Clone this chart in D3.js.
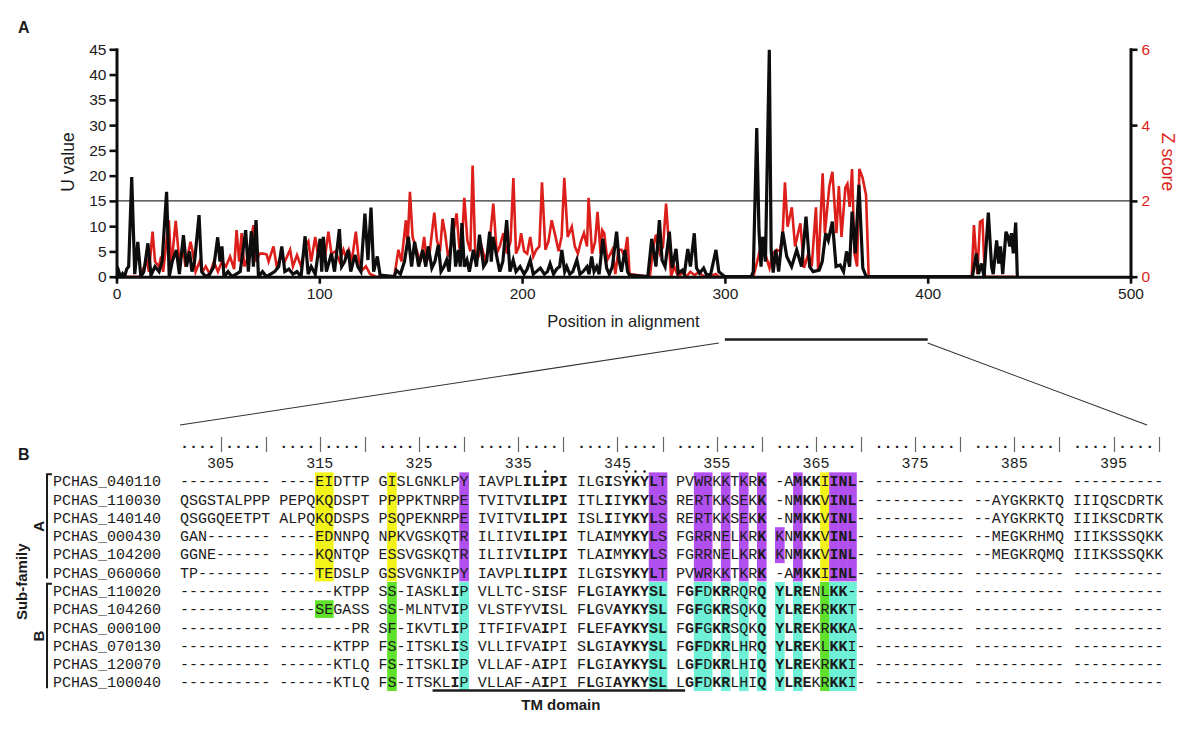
<!DOCTYPE html>
<html><head><meta charset="utf-8">
<script src="https://cdn.jsdelivr.net/npm/d3@7"></script>
<style>body{margin:0;background:#fff}</style>
</head><body>
<svg id="c" width="1200" height="734"></svg>
<script>
// ---------------- DATA ----------------
// Panel A: U value (black, left axis) as [position, U]
const uSeries = [[0,0],[1,1.2],[2,0],[3,0.6],[4,0],[5,1.5],[6,2],[7.5,19.7],[9,0.5],[10.5,6.9],[12,0],[13.5,1],[15.5,6.6],[17,0.3],[19,2],[21,1],[22.5,3],[24.7,16.8],[26,0],[27.5,3],[29.5,5.3],[31,0.5],[33,8.2],[34.5,2],[36,5],[37.2,1],[38.5,3],[40.7,12.2],[42,1],[44,0],[46,0.5],[48,2],[49.9,7.8],[51,3],[52,6],[53,0],[55,1],[57,0],[59,0.5],[61,1],[63.7,9.2],[65,1],[66.5,9],[67.5,2],[68.8,11.2],[70,0],[72,1],[74,0],[76,0.5],[78,1],[80,2],[81.5,6],[83,1],[85,1.5],[87,0.5],[89,1],[91,0],[93,8],[94.5,0.5],[96,2],[98,0.5],[100.4,7.5],[101.2,1],[102,7.9],[103.5,1],[106,4.6],[107.5,1],[109.9,9.4],[111,2],[112.5,3],[114.3,5.3],[115.5,1],[117.6,4.3],[119,2],[120.5,1],[122.5,12.5],[124,3.3],[125.5,13.7],[126.8,1],[128.6,4],[130,0.3],[137,0],[138,1.3],[140,0.5],[142,3],[143.9,7.9],[145.5,2],[147,6.9],[149,2],[151,5.3],[152.5,2],[153.7,6],[155.5,1.7],[157,3],[158.7,6.3],[160,1],[161.5,2],[162.8,3.3],[164,1],[165.8,11.6],[167.2,2],[168.6,5.3],[169.5,2],[170.3,10.6],[171.5,2],[172.8,3.3],[174,1],[176,5.3],[177.5,2],[179,8.3],[181,2],[182.5,3],[184,8.9],[184.8,3],[185.6,7.9],[187.5,4],[189,1],[190.5,3],[192.4,11.2],[194,1],[195.6,3.3],[197,1],[199,2],[201,0.5],[202.5,1.5],[204,3.3],[205.5,0.5],[207,1],[209,1.7],[211,0.5],[212.5,1],[213.8,2.6],[215.5,0.5],[217,1.5],[218.5,2],[219.6,5.3],[221,1],[222,2],[223.5,0.5],[225,1],[227,3.3],[228.5,0.5],[230,1],[232,2],[233,0.5],[234.3,4],[235.5,1],[236.8,2],[238,0.5],[239.8,7.5],[241.7,1.7],[243,0.5],[244.5,2],[246.6,8.9],[247.8,3.3],[249,1],[250.7,5.3],[252,1],[253,0.3],[262,0],[263.9,7.5],[265,4.6],[266,2],[267.7,11.2],[269,3.3],[270.5,2],[272.6,8.9],[274,1.7],[275.9,5.5],[277,0.7],[279,1.3],[280,0.5],[281.7,5.5],[283,2],[284.9,8.6],[286,1.7],[287.5,0.7],[289.5,1.7],[291,0.3],[293,0.5],[295.6,5.3],[297,1],[298.5,0.5],[300,0],[313,0],[314,1],[315.7,29.4],[316.8,9.2],[317.8,2],[318.6,7.9],[320,3],[321.9,44.9],[322.8,5.3],[323.8,0.8],[325.1,5.3],[326.5,1],[328.5,8.9],[330.5,4],[332.9,2],[335.4,5.3],[337.8,2],[340,11.9],[341.8,2],[343.5,1],[346.5,1.3],[348,3],[349.7,8.6],[351,7.2],[353,10.9],[354.8,2],[356.8,2.3],[358.5,1],[360,5],[361.5,2],[362.7,12.9],[364.3,4.6],[366.1,18.2],[368,1.7],[369.7,0],[422,0],[424,4.6],[425,0.5],[426.5,2.6],[427.8,0],[429.9,12.7],[431.5,2],[432.3,0.5],[434,7.2],[435,2.6],[435.9,6],[437,0.5],[438.6,8.9],[439.6,7.9],[440.5,6],[441.3,8.6],[442.2,4.6],[443.4,10.7],[444.2,0]];
// Panel A: Z score (red, right axis) as [position, Z]
const zSeries = [[0,0],[12,0],[13,0.2],[15,0.4],[16,0.13],[17.8,1.19],[19,0.4],[21,0.27],[22,0.53],[23,0.13],[25.8,1.49],[27,0.27],[29.2,1.47],[31,0.4],[33,0.67],[34,0.27],[36.5,0.92],[37.5,0.67],[39,0.13],[41,0.4],[42.5,0.13],[44,0.27],[46,0.07],[48,0.4],[50,0.13],[52,0.4],[54,0.27],[56,0.53],[58,0.2],[59.2,1.23],[60.5,0.4],[61.7,1.15],[63,0.27],[65,0.53],[67.5,1.36],[69,0.4],[70.5,0.61],[72,0.61],[74,0.59],[75,0.4],[77.4,0.8],[79,0.27],[81,0.53],[83,0.4],[85.6,0.71],[87,0.27],[89,0.57],[91,0.27],[93,0.8],[94.6,0.93],[96,0.4],[98,1.05],[99.5,0.53],[101,0.67],[102.5,0.4],[104.5,1.19],[106,0.61],[108,0.67],[110,0.4],[111.9,0.71],[113,0.53],[114.5,0.71],[116,0.4],[118,1.19],[119.5,0.44],[121,0.17],[123,0.27],[125,0.07],[128,0],[137,0],[139,0.71],[140.5,0.4],[142.7,1.49],[143.5,0.8],[144.7,2.24],[146,1.05],[148.5,0.61],[150,0.4],[151.7,1.05],[153,0.4],[154.5,0.67],[156.7,1.69],[158,0.96],[159.5,0.67],[160.8,1.52],[162,1.15],[163.5,0.53],[165,0.8],[167.7,1.67],[169,0.8],[170,0.53],[171.5,2.08],[173,0.96],[174.5,0.67],[175.6,2.93],[177,0.44],[178.5,0.53],[180,0.8],[182,0.4],[184,0.93],[185.8,1.93],[187.5,0.61],[189,0.8],[190.8,1.15],[192.5,0.61],[194.3,0.93],[195.7,2.6],[197,0.61],[198.5,0.8],[199.5,1.15],[201,0.67],[202.5,0.61],[204,1.05],[205.5,0.53],[207,0.71],[208.5,0.8],[209.8,2.49],[211.5,0.71],[213,0.93],[214.6,1.49],[216.5,1.05],[218,0.67],[219.5,1.07],[220.8,2.61],[222.5,1.05],[224.5,1.32],[226,0.8],[227.5,0.61],[229,0.93],[230.5,1.15],[232,0.8],[232.8,2.08],[234.5,0.61],[236,0.93],[237.2,1.71],[238.7,0.61],[239.5,1.23],[240.5,1.15],[242,0.44],[244.5,0.71],[246,0.07],[247.5,0.71],[249,0.71],[250.5,0.53],[251.9,1.05],[253,0.07],[263,0],[264.5,0.71],[266,1.11],[268,0.61],[269.5,0.8],[271,1.93],[272,1.15],[273.5,0],[275,0.27],[277,0],[279,0.11],[281,0],[283,0.13],[285,0.04],[287,0.11],[290,0],[294,0.04],[295.5,0.07],[297,0],[314,0],[315.7,0.35],[317.3,0.71],[319.8,0.61],[322,0.23],[323.5,0.61],[325.5,0.71],[327.2,0.67],[328.5,1.15],[329.6,2.49],[330.9,1.32],[333,1.83],[334.6,0.8],[337.2,1.41],[339,0.23],[341.2,0.61],[342.8,0.27],[344.9,1.83],[346,0.13],[348.2,2.73],[349.3,1.15],[351.5,2.39],[353,2.77],[355,1.15],[356.2,2.39],[357.5,1.05],[359.4,2.35],[360.4,2.45],[361.5,1.84],[362.7,2.84],[363.9,0.61],[365.2,0.27],[366.3,2.84],[367.9,2.61],[369.6,2.15],[370.9,0],[421.7,0],[422.8,1.36],[424.5,0.07],[425.8,1.45],[427,1.49],[428.2,0],[443,0]];
const xTicks = [0,100,200,300,400,500];
const uTicks = [0,5,10,15,20,25,30,35,40,45];
const zTicks = [0,2,4,6];
const uThreshold = 15;
const zoomRange = [300, 400];

// Panel B: alignment positions 301-400
const seqNames = ["PCHAS_040110","PCHAS_110030","PCHAS_140140","PCHAS_000430","PCHAS_104200","PCHAS_060060",
                  "PCHAS_110020","PCHAS_104260","PCHAS_000100","PCHAS_070130","PCHAS_120070","PCHAS_100040"];
const seqBlocks = [
 "---------- ----EIDTTP GISLGNKLPY IAVPLILIPI ILGISYKYLT PVWRKKTKRK -AMKKIINL- ---------- ---------- ----------",
 "QSGSTALPPP PEPQKQDSPT PPPPKTNRPE TVITVILIPI ITLIIYKYLS RERTKKSEKK -NMKKVINL- ---------- --AYGKRKTQ IIIQSCDRTK",
 "QSGGQEETPT ALPQKQDSPS PSQPEKNRPE IVITVILIPI ISLIIYKYLS RERTKKSEKK -NMKKVINL- ---------- --AYGKRKTQ IIIKSCDRTK",
 "GAN------- ----EDNNPQ NPKVGSKQTR ILIIVILIPI TLAIMYKYLS FGRRNELKRK KNMKKVINL- ---------- --MEGKRHMQ IIIKSSSQKK",
 "GGNE------ ----KQNTQP ESSVGSKQTR ILIIVILIPI TLAIMYKYLS FGRRNELKRK KNMKKVINL- ---------- --MEGKRQMQ IIIKSSSQKK",
 "TP-------- ----TEDSLP GSSVGNKIPY IAVPLILIPI ILGISYKYLT PVWRKKTKRK -AMKKIINL- ---------- ---------- ----------",
 "---------- ------KTPP SS-IASKLIP VLLTC-SISF FLGIAYKYSL FGFDKRRQRQ YLRENLKK-- ---------- ---------- ----------",
 "---------- ----SEGASS SS-MLNTVIP VLSTFYVISL FLGVAYKYSL FGFGKRSQKQ YLREKRKKT- ---------- ---------- ----------",
 "---------- --------PR SF-IKVTLIP ITFIFVAIPI FLEFAYKYSL FGFGKRSQKQ YLREKRKKA- ---------- ---------- ----------",
 "---------- ------KTPP FS-ITSKLIS VLLIFVAIPI SLGIAYKYSL FGFDKRLHRQ YLREKLKKI- ---------- ---------- ----------",
 "---------- ------KTLQ FS-ITSKLIP VLLAF-AIPI FLGIAYKYSL LGFDKRLHIQ YLREKRKKI- ---------- ---------- ----------",
 "---------- ------KTLQ FS-ITSKLIP VLLAF-AIPI FLGIAYKYSL LGFDKRLHIQ YLREKRKKI- ---------- ---------- ----------"
];
const subfamilies = [{name:"A", rows:[0,5]}, {name:"B", rows:[6,11]}];
const rulerLabels = [305,315,325,335,345,355,365,375,385,395];
const conservedMarks = [338,346,347,348];
const tmDomain = [327,351];
// shading: [alignment position, first row, last row, residue class]
const shading = [
 [315,0,5,"yellow"],[316,0,5,"yellow"],[322,0,5,"yellow"],[366,0,5,"yellow"],
 [330,0,5,"purple"],[349,0,5,"purple"],[350,0,5,"purple"],[353,0,5,"purple"],[354,0,5,"purple"],
 [356,0,5,"purple"],[358,0,5,"purple"],[360,0,5,"purple"],[363,0,5,"purple"],[367,0,5,"purple"],
 [368,0,5,"purple"],[369,0,5,"purple"],[361,3,4,"purple"],
 [315,7,7,"green"],[316,7,7,"green"],[322,6,11,"green"],[366,6,11,"green"],
 [330,6,11,"cyan"],[349,6,11,"cyan"],[350,6,11,"cyan"],[353,6,11,"cyan"],[354,6,11,"cyan"],
 [356,6,11,"cyan"],[358,6,11,"cyan"],[360,6,11,"cyan"],[361,6,11,"cyan"],[363,6,11,"cyan"],
 [367,6,11,"cyan"],[368,6,11,"cyan"],[369,6,11,"cyan"]
];

// ---------------- DRAWING ----------------
const SANS = "'Liberation Sans', Arial, Helvetica, sans-serif";
const MONO = "'Liberation Mono', 'Courier New', monospace";
const INK = "#1b1b1b";
const RED = "#dc1f1a";
const shadeColor = {yellow:"#f3f31c", purple:"#b150ef", cyan:"#6ef0d6", green:"#5fe12c"};

const svg = d3.select("#c");
svg.append("rect").attr("width",1200).attr("height",734).attr("fill","#fff");

// ----- Panel A -----
const x = d3.scaleLinear().domain([0,500]).range([116.5,1130.5]);
const yU = d3.scaleLinear().domain([0,45]).range([276.7,49.3]);
const yZ = d3.scaleLinear().domain([0,6]).range([276.7,49.3]);

svg.append("text").attr("x",18).attr("y",33).attr("font-family",SANS).attr("font-weight","bold")
  .attr("font-size",16).attr("fill",INK).text("A");

svg.append("defs").append("clipPath").attr("id","pa").append("rect")
  .attr("x",x(0)).attr("y",30).attr("width",x(500)-x(0)).attr("height",yU(0)-30);

svg.append("line").attr("x1",x(0)).attr("x2",x(500)).attr("y1",yU(uThreshold)).attr("y2",yU(uThreshold))
  .attr("stroke","#333").attr("stroke-width",1.3);

const gl = svg.append("g").attr("clip-path","url(#pa)");
gl.append("path").datum(zSeries)
  .attr("d",d3.line().x(d=>x(d[0])).y(d=>yZ(d[1])))
  .attr("fill","none").attr("stroke",RED).attr("stroke-width",2.6).attr("stroke-linejoin","miter");
gl.append("path").datum(uSeries)
  .attr("d",d3.line().x(d=>x(d[0])).y(d=>yU(d[1])))
  .attr("fill","none").attr("stroke","#0d0d0d").attr("stroke-width",3.2).attr("stroke-linejoin","miter");

function styleAxis(g, color){
  g.selectAll("path.domain").attr("stroke","#0d0d0d").attr("stroke-width",3).attr("stroke-linecap","square");
  g.selectAll(".tick line").attr("stroke","#0d0d0d").attr("stroke-width",2.6);
  g.selectAll(".tick text").attr("font-family",SANS).attr("font-size",15.5).attr("fill",color);
}
const fmt = d3.format("d");
const axL = svg.append("g").attr("transform",`translate(${x(0)},0)`)
  .call(d3.axisLeft(yU).tickValues(uTicks).tickFormat(fmt).tickSize(7).tickPadding(3).tickSizeOuter(0));
styleAxis(axL, INK);
const axR = svg.append("g").attr("transform",`translate(${x(500)},0)`)
  .call(d3.axisRight(yZ).tickValues(zTicks).tickFormat(fmt).tickSize(7).tickPadding(4).tickSizeOuter(0));
styleAxis(axR, RED);
const axB = svg.append("g").attr("transform",`translate(0,${yU(0)})`)
  .call(d3.axisBottom(x).tickValues(xTicks).tickFormat(fmt).tickSize(7).tickPadding(4).tickSizeOuter(0));
styleAxis(axB, INK);

svg.append("text").attr("transform","translate(74,162) rotate(-90)").attr("text-anchor","middle")
  .attr("font-family",SANS).attr("font-size",17.5).attr("fill",INK).text("U value");
svg.append("text").attr("transform","translate(1162,162) rotate(90)").attr("text-anchor","middle")
  .attr("font-family",SANS).attr("font-size",17.5).attr("fill",RED).text("Z score");
svg.append("text").attr("x",(x(0)+x(500))/2).attr("y",327).attr("text-anchor","middle")
  .attr("font-family",SANS).attr("font-size",16.5).attr("fill",INK).text("Position in alignment");

// zoom connector
svg.append("line").attr("x1",x(zoomRange[0])).attr("x2",x(zoomRange[1])).attr("y1",339.5).attr("y2",339.5)
  .attr("stroke",INK).attr("stroke-width",2.4);
svg.append("line").attr("x1",x(zoomRange[0])-6).attr("y1",343).attr("x2",180).attr("y2",425)
  .attr("stroke","#333").attr("stroke-width",1.1);
svg.append("line").attr("x1",x(zoomRange[1])).attr("y1",343).attr("x2",1147).attr("y2",425)
  .attr("stroke","#333").attr("stroke-width",1.1);

// ----- Panel B -----
svg.append("text").attr("x",18).attr("y",460).attr("font-family",SANS).attr("font-weight","bold")
  .attr("font-size",16).attr("fill",INK).text("B");

const seqs = seqBlocks.map(s=>s.replace(/ /g,""));
const cw = 9.02;
const colIdx = p => Math.floor((p-301)/10)*11 + (p-301)%10;
const colX = d3.scaleLinear().domain([0,1]).range([180+cw/2, 180+cw/2+cw]);
const px = p => colX(colIdx(p));
const rowY = d3.scaleLinear().domain([0,11]).range([481.2,682.2]);
const rh = (rowY(11)-rowY(0))/11;

// shading
svg.append("g").selectAll("rect").data(shading).join("rect")
  .attr("x",d=>px(d[0])-cw/2-0.3).attr("width",cw+0.6)
  .attr("y",d=>rowY(d[1])-rh/2+0.3).attr("height",d=>(d[2]-d[1]+1)*rh-0.6)
  .attr("fill",d=>shadeColor[d[3]]);

// ruler: dots as text, every fifth position a vertical bar
const rulerG = svg.append("g").attr("font-family",MONO).attr("font-size",15);
for(let p=301;p<=400;p++){
  const k=(p-301)%10, bar=(k===4||k===9);
  if(bar){
    rulerG.append("line").attr("x1",Math.round(px(p))+0.5).attr("x2",Math.round(px(p))+0.5)
      .attr("y1",437).attr("y2",452).attr("stroke","#666").attr("stroke-width",1.2);
  } else {
    rulerG.append("text").attr("x",px(p)).attr("y",448).attr("text-anchor","middle")
      .attr("fill",INK).attr("font-weight","bold").text(".");
  }
}
rulerG.selectAll("text.num").data(rulerLabels).join("text").attr("class","num")
  .attr("x",d=>px(d)).attr("y",468).attr("text-anchor","middle").attr("fill",INK).text(d=>d);
// conservation marks (small dots above the columns)
svg.append("g").selectAll("circle").data(conservedMarks).join("circle")
  .attr("cx",d=>px(d)).attr("cy",471.5).attr("r",1.3).attr("fill",INK);

// bold = residue identical in all members of the sub-family
function conservedSet(r0,r1){
  const s=new Set();
  for(let i=0;i<100;i++){
    const c=seqs[r0][i]; if(c==="-") continue;
    let ok=true; for(let r=r0;r<=r1;r++) if(seqs[r][i]!==c){ok=false;break;}
    if(ok) s.add(i);
  }
  return s;
}
const boldSets = subfamilies.map(f=>conservedSet(f.rows[0],f.rows[1]));

const seqG = svg.append("g").attr("font-family",MONO).attr("font-size",15).attr("fill",INK);
seqs.forEach((s,r)=>{
  const fam = subfamilies.findIndex(f=>r>=f.rows[0]&&r<=f.rows[1]);
  seqG.append("text").attr("x",53).attr("y",rowY(r)+5.2).text(seqNames[r]);
  for(let i=0;i<100;i++){
    seqG.append("text").attr("x",px(301+i)).attr("y",rowY(r)+5.2).attr("text-anchor","middle")
      .attr("font-weight",boldSets[fam].has(i)?"bold":"normal").text(s[i]);
  }
});

// sub-family brackets
subfamilies.forEach(f=>{
  const top=rowY(f.rows[0])-7, bot=rowY(f.rows[1])+6;
  svg.append("path").attr("d",`M52,${top}H47V${bot}`).attr("fill","none").attr("stroke",INK).attr("stroke-width",2);
  svg.append("text").attr("transform",`translate(44,${(top+bot)/2}) rotate(-90)`).attr("text-anchor","middle")
    .attr("font-family",SANS).attr("font-weight","bold").attr("font-size",15).attr("fill",INK).text(f.name);
});
svg.append("text").attr("transform",`translate(27,${(rowY(0)+rowY(11))/2}) rotate(-90)`).attr("text-anchor","middle")
  .attr("font-family",SANS).attr("font-weight","bold").attr("font-size",15).attr("fill",INK).text("Sub-family");

// TM domain
svg.append("line").attr("x1",px(tmDomain[0])-cw/2).attr("x2",px(tmDomain[1])+cw/2)
  .attr("y1",690.5).attr("y2",690.5).attr("stroke",INK).attr("stroke-width",2.4);
svg.append("text").attr("x",(px(tmDomain[0])+px(tmDomain[1]))/2+2).attr("y",710).attr("text-anchor","middle")
  .attr("font-family",SANS).attr("font-weight","bold").attr("font-size",15).attr("fill",INK).text("TM domain");
</script>
</body></html>
